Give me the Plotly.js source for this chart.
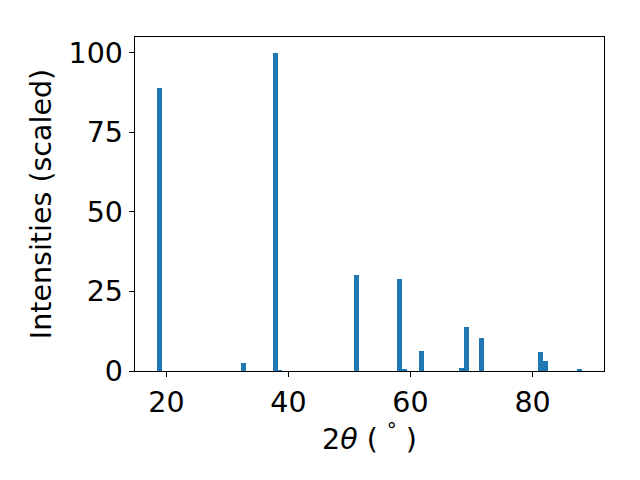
<!DOCTYPE html>
<html>
<head>
<meta charset="utf-8">
<script src="https://cdn.plot.ly/plotly-3.0.1.min.js"></script>
<style>html,body{margin:0;padding:0;background:#fff;}#chart{width:640px;height:480px;}</style>
</head>
<body>
<div id="chart"></div>
<script>
// Peak positions (2θ, degrees) and scaled intensities
const twoTheta = [18.85, 32.62, 37.87, 38.5, 51.11, 58.2, 59.0, 61.8, 68.36, 69.18, 71.64, 81.3, 82.13, 87.7];
const intensities = [89, 2.6, 100, 0.3, 30.2, 28.9, 0.5, 6.3, 0.8, 13.9, 10.5, 6.0, 3.3, 0.6];
const binWidth = 0.82;
const xTicks = [20, 40, 60, 80];
const yTicks = [0, 25, 50, 75, 100];

const font = {family: 'DejaVu Sans', size: 28.5, color: '#000'};

Plotly.newPlot('chart', [{
  type: 'bar',
  x: twoTheta,
  y: intensities,
  width: twoTheta.map(() => binWidth),
  marker: {color: '#1f77b4', line: {width: 0}},
  hoverinfo: 'none'
}], {
  width: 640, height: 480,
  margin: {l: 135, r: 36, t: 37, b: 109, pad: 0},
  paper_bgcolor: '#fff', plot_bgcolor: '#fff',
  font: font,
  showlegend: false,
  bargap: 0,
  xaxis: {
    range: [14.84, 91.72],
    tickvals: xTicks, ticktext: xTicks.map(String),
    ticks: 'outside', ticklen: 5, tickwidth: 1, tickcolor: '#000',
    showline: true, linecolor: '#000', linewidth: 1.3, mirror: true,
    showgrid: false, zeroline: false,
    tickfont: font,
    title: {text: '2<i>θ</i> ( <sup>°</sup> )', font: font, standoff: 6},
    automargin: false
  },
  yaxis: {
    range: [0, 105],
    tickvals: yTicks, ticktext: yTicks.map(String),
    ticks: 'outside', ticklen: 5, tickwidth: 1, tickcolor: '#000',
    showline: true, linecolor: '#000', linewidth: 1.3, mirror: true,
    showgrid: false, zeroline: false,
    tickfont: font,
    title: {text: 'Intensities (scaled)', font: font, standoff: 8},
    automargin: false
  }
}, {staticPlot: true, displayModeBar: false});
</script>
</body>
</html>
